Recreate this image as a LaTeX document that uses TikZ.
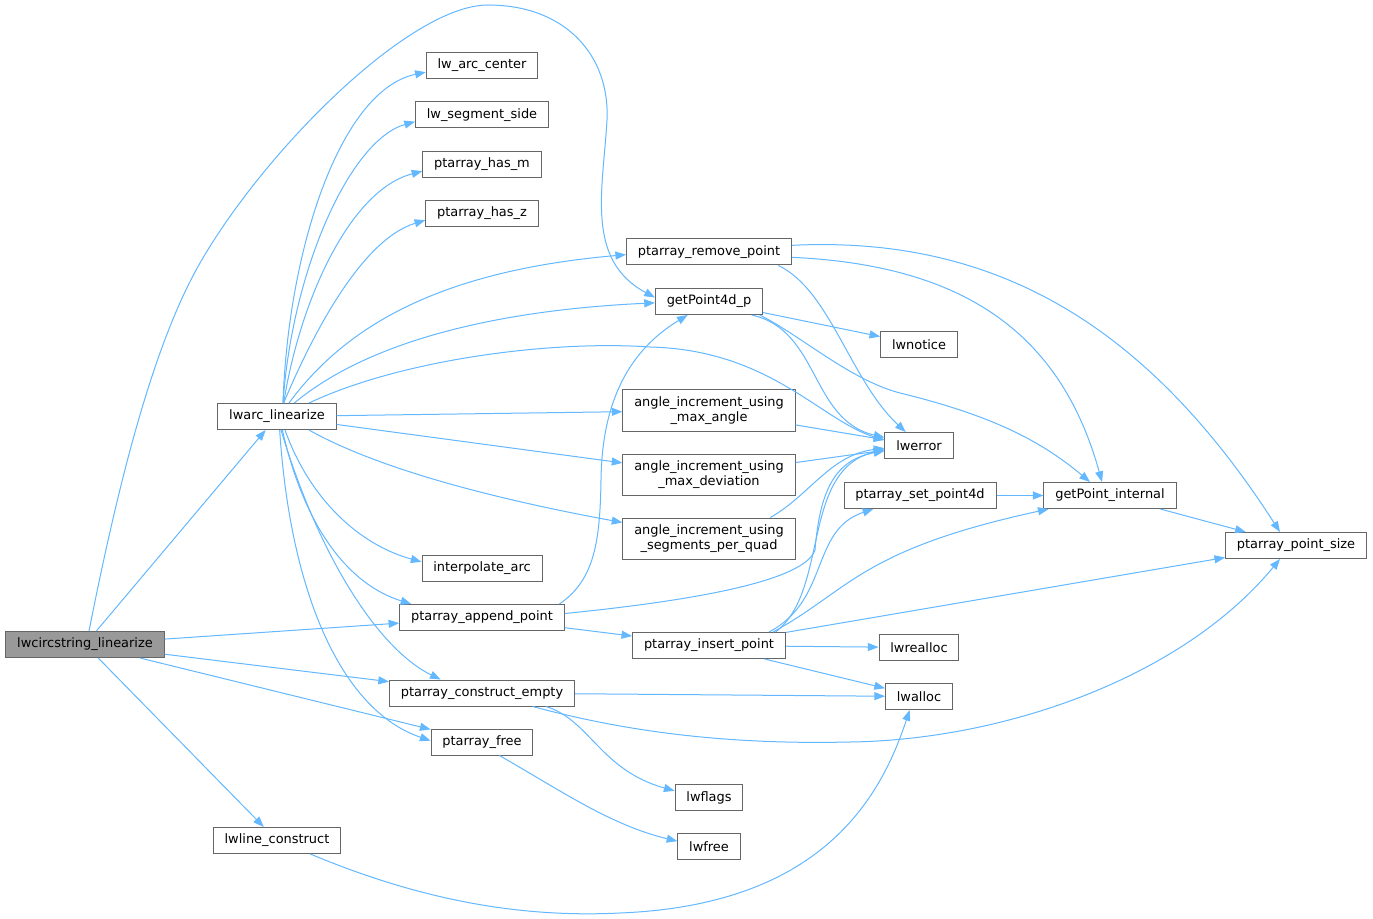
\documentclass[tikz,border=0pt]{standalone}
\usepackage{fontspec}
\setmainfont{DejaVu Sans}
\usetikzlibrary{positioning,arrows.meta,calc}
\definecolor{edgeblue}{HTML}{63B8FF}
\definecolor{boxgray}{HTML}{666666}
\definecolor{mainfill}{HTML}{999999}

\begin{document}
\begin{tikzpicture}[
        x=0.75pt, y=-0.75pt,
        every node/.style={font=\fontsize{9.7}{11.25}\selectfont},
        fn/.style={draw=boxgray, line width=0.75pt, fill=white, inner xsep=8.5pt, inner ysep=2pt, minimum height=19.5pt},
        fntwo/.style={fn, align=center, minimum height=30.75pt},
        mainfn/.style={fn, fill=mainfill},
        call/.style={-{Triangle[length=8pt,width=6pt]}, edgeblue, line width=0.75pt}
    ]
        \path[fill=white] (0,0) rectangle (1373,919);
        \useasboundingbox (0,0) rectangle (1373,919);

        % Caller and first rank
        \node[mainfn] (cs) at (85,644.5) {lwcircstring\_linearize};
        \node[fn] (arc) at (277,416.5) {lwarc\_linearize};
        \node[fn] (lwline) at (277,840.5) {lwline\_construct};

        % Second rank
        \node[fn] (arccenter) at (482,65.5) {lw\_arc\_center};
        \node[fn] (side) at (482,115) {lw\_segment\_side};
        \node[fn] (hasm) at (482,164.5) {ptarray\_has\_m};
        \node[fn] (hasz) at (482,213.5) {ptarray\_has\_z};
        \node[fn] (interp) at (482,568.5) {interpolate\_arc};
        \node[fn] (append) at (482,617.5) {ptarray\_append\_point};
        \node[fn] (empty) at (482,693) {ptarray\_construct\_empty};
        \node[fn] (free) at (482,742) {ptarray\_free};

        % Third rank
        \node[fn] (remove) at (709,252) {ptarray\_remove\_point};
        \node[fn] (gp4d) at (709,301.5) {getPoint4d\_p};
        \node[fntwo] (maxang) at (709,410.5) {angle\_increment\_using\\\_max\_angle};
        \node[fntwo] (maxdev) at (709,474.5) {angle\_increment\_using\\\_max\_deviation};
        \node[fntwo] (segquad) at (709,538.5) {angle\_increment\_using\\\_segments\_per\_quad};
        \node[fn] (insert) at (709,645.5) {ptarray\_insert\_point};
        \node[fn] (flags) at (709,797.5) {lwflags};
        \node[fn] (lwfree) at (709,846.5) {lwfree};

        % Fourth rank
        \node[fn] (notice) at (919,344.5) {lwnotice};
        \node[fn] (error) at (919,445.5) {lwerror};
        \node[fn] (set4d) at (920,495.5) {ptarray\_set\_point4d};
        \node[fn] (realloc) at (919,647.5) {lwrealloc};
        \node[fn] (alloc) at (919,696.5) {lwalloc};

        % Last ranks
        \node[fn] (gpint) at (1110,495.5) {getPoint\_internal};
        \node[fn] (psize) at (1296,545.5) {ptarray\_point\_size};

        % Calls from lwcircstring_linearize
        \draw[call] ([xshift=3pt]cs.north) .. controls (115,500) and (150,350) .. (200,263)
            .. controls (265,150) and (410,5) .. (488,5)
            .. controls (565,5) and (610,55) .. (607,120)
            .. controls (603,190) and (585,260) .. ([yshift=3pt]gp4d.west);
        \draw[call] (cs) -- (arc);
        \draw[call] (cs) -- (append);
        \draw[call] (cs) -- (empty);
        \draw[call] (cs) -- (free);
        \draw[call] (cs) -- (lwline);

        % Calls from lwarc_linearize
        \draw[call] ([xshift=4.5pt]arc.north) .. controls (288,250) and (340,90) .. ([yshift=-5pt]arccenter.west);
        \draw[call] ([xshift=4.5pt]arc.north) .. controls (292,270) and (350,140) .. ([yshift=-5pt]side.west);
        \draw[call] ([xshift=5pt]arc.north) .. controls (300,300) and (350,190) .. ([yshift=-5pt]hasm.west);
        \draw[call] ([xshift=5pt]arc.north) .. controls (310,340) and (360,240) .. ([yshift=-5pt]hasz.west);
        \draw[call] ([xshift=9pt]arc.north) .. controls (350,320) and (450,270) .. ([yshift=-2pt]remove.west);
        \draw[call] ([xshift=13pt]arc.north) .. controls (370,340) and (500,310) .. ([yshift=-1pt]gp4d.west);
        \draw[call] ([xshift=24pt]arc.north) .. controls (400,360) and (550,340) .. (650,347)
            .. controls (770,350) and (820,420) .. ([yshift=4pt]error.west);
        \draw[call] (arc) -- (maxang);
        \draw[call] (arc) -- (maxdev);
        \draw[call] ([xshift=24pt]arc.south) .. controls (380,470) and (500,500) .. ([yshift=12pt]segquad.west);
        \draw[call] ([xshift=6pt]arc.south) .. controls (310,500) and (360,545) .. ([yshift=5pt]interp.west);
        \draw[call] ([xshift=4pt]arc.south) .. controls (305,530) and (350,585) .. ([xshift=-53pt]append.north);
        \draw[call] ([xshift=3pt]arc.south) .. controls (320,560) and (380,650) .. ([xshift=-31pt]empty.north);
        \draw[call] ([xshift=2pt]arc.south) .. controls (290,590) and (340,710) .. ([yshift=1pt]free.west);

        % Calls from ptarray_append_point
        \draw[call] ([xshift=58pt]append.north) .. controls (595,580) and (600,540) .. (601,480)
            .. controls (602,400) and (630,350) .. ([xshift=-16pt]gp4d.south);
        \draw[call] ([yshift=3pt]append.east) .. controls (700,600) and (805,580) .. (815,550)
            .. controls (820,490) and (835,460) .. ([yshift=-4pt]error.west);
        \draw[call] (append) -- (insert);

        % Calls from ptarray_insert_point
        \draw[call] ([xshift=50pt]insert.north) .. controls (830,590) and (800,470) .. ([yshift=-3pt]error.west);
        \draw[call] ([xshift=45pt]insert.north) .. controls (830,600) and (810,530) .. ([xshift=-35pt]set4d.south);
        \draw[call] ([xshift=48pt]insert.north) .. controls (850,590) and (860,550) .. ([xshift=-46pt]gpint.south);
        \draw[call] (insert) -- (psize);
        \draw[call] (insert) -- (realloc);
        \draw[call] (insert) -- (alloc);

        % Calls from the angle_increment functions
        \draw[call] (maxang) -- (error);
        \draw[call] (maxdev) -- (error);
        \draw[call] ([xshift=46pt]segquad.north) .. controls (810,495) and (830,455) .. ([yshift=-2pt]error.west);

        % Calls from getPoint4d_p
        \draw[call] (gp4d) -- (notice);
        \draw[call] ([xshift=32pt]gp4d.south) .. controls (820,330) and (810,420) .. ([yshift=6pt]error.west);
        \draw[call] ([xshift=38pt]gp4d.south) .. controls (800,335) and (850,380) .. (900,393)
            .. controls (990,415) and (1040,440) .. ([xshift=-15pt]gpint.north);

        % Calls from ptarray_remove_point
        \draw[call] ([xshift=52pt]remove.south) .. controls (830,290) and (850,380) .. ([xshift=-10pt]error.north);
        \draw[call] ([yshift=-4pt]remove.east) .. controls (960,265) and (1060,330) .. ([xshift=-6pt]gpint.north);
        \draw[call] ([yshift=5pt]remove.east) .. controls (1000,235) and (1150,330) .. ([xshift=-12pt]psize.north);

        % Point access
        \draw[call] (set4d) -- (gpint);
        \draw[call] (gpint) -- (psize);

        % Calls from ptarray_construct_empty
        \draw[call] (empty) -- (alloc);
        \draw[call] ([xshift=38pt]empty.south) .. controls (620,730) and (720,745) .. (850,742)
            .. controls (1000,740) and (1180,680) .. ([xshift=-12pt]psize.south);
        \draw[call] ([xshift=48pt]empty.south) .. controls (590,720) and (600,770) .. ([yshift=5pt]flags.west);

        % Calls from ptarray_free and lwline_construct
        \draw[call] ([xshift=13pt]free.south) .. controls (560,790) and (610,825) .. ([yshift=4pt]lwfree.west);
        \draw[call] ([xshift=25pt]lwline.south) .. controls (420,900) and (520,918) .. (620,913)
            .. controls (820,905) and (880,800) .. ([xshift=-7pt]alloc.south);

    \end{tikzpicture}
\end{document}
